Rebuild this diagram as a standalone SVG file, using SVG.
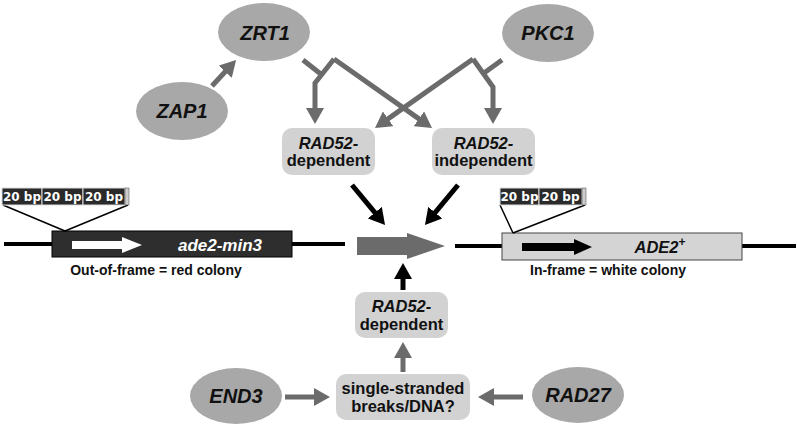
<svg xmlns="http://www.w3.org/2000/svg" width="797" height="427" viewBox="0 0 797 427">
<style>
.ell{fill:#a8a8a8}
.ell-t{font-family:"Liberation Sans",Arial,sans-serif;font-weight:bold;font-style:italic;font-size:20px;fill:#111;text-anchor:middle}
.box{fill:#d2d2d2}
.box-t{font-family:"Liberation Sans",Arial,sans-serif;font-weight:bold;font-size:16.5px;fill:#111;text-anchor:middle}
.it{font-style:italic}
.g{fill:none;stroke:#6b6b6b;stroke-width:5}
.k{fill:none;stroke:#000;stroke-width:5}
.dna{stroke:#000;stroke-width:4}
.tab{fill:#2a2a2a;stroke:#ddd;stroke-width:1}
.tab-t{font-family:"DejaVu Sans",Verdana,sans-serif;font-weight:bold;font-size:12px;fill:#fff;text-anchor:middle}
.cap{font-family:"Liberation Sans",Arial,sans-serif;font-weight:bold;font-size:14px;fill:#111;text-anchor:middle}
.thin{stroke:#000;stroke-width:1.5}
</style>
<defs>
<marker id="ga" markerUnits="userSpaceOnUse" markerWidth="16" markerHeight="18" viewBox="0 0 16 18" refX="4" refY="9" orient="auto"><path d="M0,0 L16,9 L0,18 z" fill="#6b6b6b"/></marker>
<marker id="ka" markerUnits="userSpaceOnUse" markerWidth="16" markerHeight="18" viewBox="0 0 16 18" refX="4" refY="9" orient="auto"><path d="M0,0 L16,9 L0,18 z" fill="#000"/></marker>
</defs>
<rect width="797" height="427" fill="#fff"/>

<!-- DNA constructs -->
<g id="left-construct">
<line class="dna" x1="4" y1="244" x2="52" y2="244"/>
<line class="dna" x1="292" y1="244" x2="345" y2="244"/>
<rect x="52" y="231" width="240" height="26" fill="#2e2e2e" stroke="#000" stroke-width="1"/>
<polygon points="72,241 122,241 122,237 142,245 122,253 122,249 72,249" fill="#fff"/>
<text x="220" y="251" font-family="Liberation Sans,Arial,sans-serif" font-weight="bold" font-style="italic" font-size="17" fill="#fff" text-anchor="middle">ade2-min3</text>
<line class="thin" x1="3" y1="205" x2="65" y2="231"/>
<line class="thin" x1="128" y1="205" x2="65" y2="231"/>
<rect class="tab" x="2" y="188" width="40" height="17"/>
<rect class="tab" x="42" y="188" width="41" height="17"/>
<rect class="tab" x="83" y="188" width="42" height="17"/>
<rect x="125" y="188" width="4" height="17" fill="#ccc" stroke="#444" stroke-width="0.5"/>
<text class="tab-t" x="22" y="201">20 bp</text>
<text class="tab-t" x="62.5" y="201">20 bp</text>
<text class="tab-t" x="104" y="201">20 bp</text>
<text class="cap" x="156" y="275">Out-of-frame = red colony</text>
</g>

<g id="right-construct">
<line class="dna" x1="455" y1="246" x2="502" y2="246"/>
<line class="dna" x1="742" y1="246" x2="796" y2="246"/>
<rect x="502" y="233" width="240" height="27" fill="#d4d4d4" stroke="#444" stroke-width="1"/>
<polygon points="522,243 574,243 574,239 592,247 574,255 574,251 522,251" fill="#000"/>
<text x="660" y="253" font-family="Liberation Sans,Arial,sans-serif" font-weight="bold" font-style="italic" font-size="16.5" fill="#111" text-anchor="middle">ADE2<tspan font-size="12" dy="-7" font-style="normal">+</tspan></text>
<line class="thin" x1="500" y1="205" x2="513" y2="233"/>
<line class="thin" x1="585" y1="205" x2="513" y2="233"/>
<rect class="tab" x="500" y="188" width="39" height="17"/>
<rect class="tab" x="539" y="188" width="43" height="17"/>
<rect x="582" y="188" width="4" height="17" fill="#ccc" stroke="#444" stroke-width="0.5"/>
<text class="tab-t" x="519.5" y="201">20 bp</text>
<text class="tab-t" x="560.5" y="201">20 bp</text>
<text class="cap" x="608" y="275">In-frame = white colony</text>
</g>

<g id="central-arrow">
<polygon points="357,237 407,237 407,233 445,246 407,259 407,255 357,255" fill="#6b6b6b"/>
</g>

<!-- Nodes -->
<g id="ZRT1"><ellipse class="ell" cx="264" cy="32" rx="46" ry="29"/><text class="ell-t" x="265" y="40">ZRT1</text></g>
<g id="PKC1"><ellipse class="ell" cx="548" cy="33" rx="46" ry="29"/><text class="ell-t" x="548" y="40">PKC1</text></g>
<g id="ZAP1"><ellipse class="ell" cx="182" cy="111" rx="46" ry="29"/><text class="ell-t" x="182" y="118">ZAP1</text></g>
<g id="END3"><ellipse class="ell" cx="236" cy="396" rx="46" ry="28"/><text class="ell-t" x="236" y="403">END3</text></g>
<g id="RAD27"><ellipse class="ell" cx="578" cy="395" rx="46" ry="28"/><text class="ell-t" x="578" y="402">RAD27</text></g>

<g id="RAD52-dependent-top"><rect class="box" x="282" y="128" width="93" height="47" rx="10"/>
<text class="box-t it" x="328.5" y="149">RAD52-</text><text class="box-t" x="328.5" y="166">dependent</text></g>
<g id="RAD52-independent"><rect class="box" x="432" y="128" width="103" height="47" rx="10"/>
<text class="box-t it" x="483.5" y="149">RAD52-</text><text class="box-t" x="483.5" y="166">independent</text></g>
<g id="RAD52-dependent-bottom"><rect class="box" x="355" y="292" width="93" height="46" rx="10"/>
<text class="box-t it" x="401.5" y="312">RAD52-</text><text class="box-t" x="401.5" y="330">dependent</text></g>
<g id="single-stranded"><rect class="box" x="336" y="374" width="134" height="46" rx="10"/>
<text class="box-t" x="403" y="394">single-stranded</text><text class="box-t" x="403" y="412">breaks/DNA?</text></g>

<!-- Connectors -->
<g id="connectors">
<path class="g" d="M212,86 L227.9,68.8" marker-end="url(#ga)"/>
<path class="g" d="M303,60 L322,75"/>
<path class="g" d="M334,59 L315,83 L315,112" marker-end="url(#ga)"/>
<path class="g" d="M334,59 L422.2,121.1" marker-end="url(#ga)"/>
<path class="g" d="M502,60 L484,73"/>
<path class="g" d="M473,59 L493,87 L493,112" marker-end="url(#ga)"/>
<path class="g" d="M473,59 L384.8,121.1" marker-end="url(#ga)"/>
<path class="g" d="M285,397 L318,397" marker-end="url(#ga)"/>
<path class="g" d="M523,397 L490,397" marker-end="url(#ga)"/>
<path class="g" d="M403,372 L403,354" marker-end="url(#ga)"/>
<path class="k" d="M352,185 L377.4,215.7" marker-end="url(#ka)"/>
<path class="k" d="M458,185 L432.6,215.7" marker-end="url(#ka)"/>
<path class="k" d="M403,290 L403,275" marker-end="url(#ka)"/>
</g>
</svg>
